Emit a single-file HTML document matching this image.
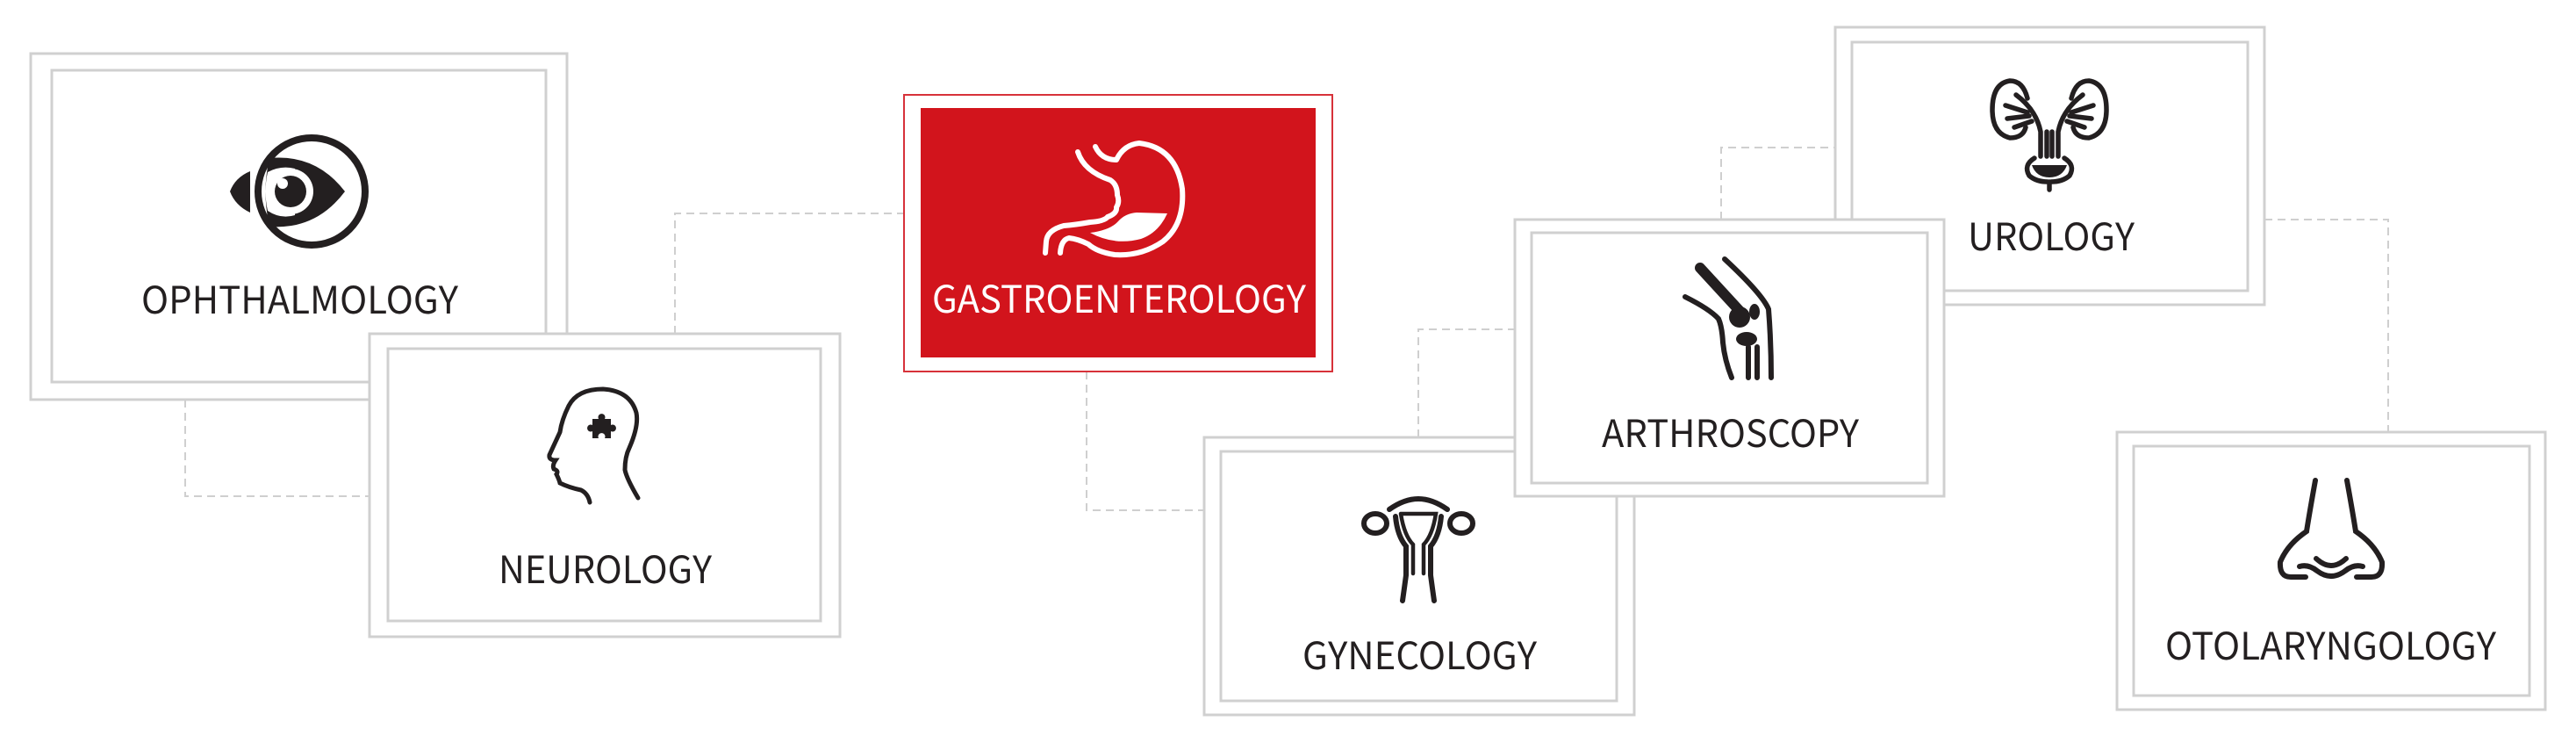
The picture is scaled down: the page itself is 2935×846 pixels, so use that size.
<!DOCTYPE html>
<html><head><meta charset="utf-8"><style>
html,body{margin:0;padding:0;background:#fff}
svg{display:block}
text{font-family:"Noto Sans CJK JP","Liberation Sans",sans-serif;font-size:43px;fill:#231f20}
</style></head><body>
<svg width="2935" height="846" viewBox="0 0 2935 846" xmlns="http://www.w3.org/2000/svg">
<g fill="none" stroke="#cfcfcf" stroke-width="2" stroke-dasharray="9 6">
<polyline points="211,455 211,565 421,565"/>
<polyline points="769,380 769,243 1031,243"/>
<polyline points="1238,423 1238,581 1372,581"/>
<polyline points="1616,498 1616,375 1726,375"/>
<polyline points="1961,250 1961,168 2091,168"/>
<polyline points="2580,250 2721,250 2721,492"/>
</g>
<g fill="#fff" stroke="#d0d0d0" stroke-width="3">
<rect x="35" y="61" width="611" height="394"/><rect x="59" y="80" width="563" height="355"/>
<rect x="421" y="380" width="536" height="345"/><rect x="442" y="397" width="493" height="310"/>
<rect x="2091" y="31" width="489" height="316"/><rect x="2110" y="48" width="451" height="283"/>
<rect x="1372" y="498" width="490" height="316"/><rect x="1391" y="514" width="451" height="284"/>
<rect x="1726" y="250" width="489" height="315"/><rect x="1745" y="265" width="451" height="285"/>
<rect x="2412" y="492" width="488" height="316"/><rect x="2431" y="508" width="451" height="284"/>
</g>
<rect x="1030" y="108" width="488" height="315" fill="#fff" stroke="#d7323a" stroke-width="2"/>
<rect x="1049" y="123" width="450" height="284" fill="#d2141c"/>

<!-- Eye -->
<circle cx="355" cy="218" r="61" fill="none" stroke="#231f20" stroke-width="8"/>
<path d="M262,218 Q268,202 285,195 L285,242 Q268,234 262,218Z" fill="#231f20"/>
<path d="M307,180 Q360,175 393,218 Q360,262 307,258 Q298,218 307,180Z" fill="#231f20"/>
<path d="M305,196 Q300,218 305,240 Q320,250 336,245 L336,192 Q320,188 305,196Z" fill="#fff"/>
<circle cx="331" cy="218" r="26" fill="#fff"/>
<circle cx="331" cy="218" r="18" fill="#231f20"/>
<circle cx="322" cy="209" r="6" fill="#fff"/>

<!-- Head -->
<path d="M727,567 Q714,545 712,535 Q712,520 717,510 Q728,485 725,470 Q718,445 687,443 Q658,443 648,462 Q640,478 638,492 Q632,505 626,518 Q625,524 633,524 Q629,530 631,534 Q637,536 634,540 Q637,546 638,550 Q648,555 662,558 Q670,562 672,572" fill="none" stroke="#231f20" stroke-width="5" stroke-linecap="round"/>
<path d="M675,477 h7 a4,4 0 1 1 7,0 h7 v7 a4,4 0 1 1 0,7 v8 h-7 a4,4 0 1 0 -7,0 h-7 v-8 a4,4 0 1 1 0,-7z" fill="#231f20"/>

<!-- Stomach -->
<g fill="none" stroke="#fff" stroke-width="6" stroke-linecap="round" stroke-linejoin="round">
<path d="M1228,173 Q1235,195 1265,205 Q1273,210 1273,222 Q1276,230 1272,236 Q1273,243 1262,247 Q1258,252 1242,253 Q1225,256 1212,257 Q1193,262 1192,275 L1191,288"/>
<path d="M1248,167 Q1255,182 1272,182 Q1280,165 1298,163 Q1340,168 1347,215 Q1350,255 1325,275 Q1300,292 1270,290 Q1250,287 1240,278 Q1228,272 1218,271 Q1209,273 1208,288"/>
</g>
<path d="M1242,265 Q1265,262 1274,252 Q1282,243 1295,242 L1330,243 Q1320,265 1300,272 Q1270,280 1242,265Z" fill="#fff"/>

<!-- Kidneys -->
<g fill="none" stroke="#231f20" stroke-width="5.5" stroke-linecap="round">
<path d="M2310,112 Q2305,92 2290,92 Q2270,95 2270,125 Q2270,152 2290,157 Q2305,157 2308,145"/>
<path d="M2360,112 Q2365,92 2380,92 Q2400,95 2400,125 Q2400,152 2380,157 Q2365,157 2362,145"/>
<path d="M2297,108 Q2320,125 2325,150 L2325,178 M2373,108 Q2350,125 2345,150 L2345,178"/>
<path d="M2285,120 L2310,128 M2287,135 L2312,132 M2295,145 L2315,138 M2385,120 L2360,128 M2383,135 L2358,132 M2375,145 L2355,138"/>
<path d="M2332,150 V178 M2338,150 V178"/>
<path d="M2318,180 Q2305,188 2312,200 Q2320,207 2333,207 M2352,180 Q2365,188 2358,200 Q2350,207 2337,207 M2335,207 V216"/>
</g>
<path d="M2315,188 H2355 Q2350,202 2335,202 Q2320,202 2315,188Z" fill="#231f20"/>

<!-- Knee -->
<g fill="none" stroke="#231f20" stroke-linecap="round">
<path d="M1937,305 L1983,355" stroke-width="12"/>
<path d="M1965,295 Q2008,335 2015,352 Q2018,390 2018,430" stroke-width="6"/>
<path d="M1920,338 Q1948,352 1958,363 Q1962,372 1963,390 Q1965,410 1973,430" stroke-width="6"/>
<path d="M1992,395 V430 M2002,395 V430" stroke-width="6"/>
</g>
<circle cx="1982" cy="361" r="12" fill="#231f20"/>
<ellipse cx="1999" cy="355" rx="6" ry="9" fill="#231f20"/>
<ellipse cx="1990" cy="386" rx="12" ry="8" fill="#231f20"/>

<!-- Uterus -->
<g fill="none" stroke="#231f20" stroke-width="6" stroke-linecap="round">
<path d="M1583,580 Q1600,568 1616,568 Q1632,568 1649,580"/>
<ellipse cx="1567" cy="596" rx="13" ry="11"/>
<ellipse cx="1665" cy="596" rx="13" ry="11"/>
<path d="M1590,588 Q1592,610 1602,622 L1602,655 Q1600,670 1598,684"/>
<path d="M1642,588 Q1640,610 1630,622 L1630,655 Q1632,670 1634,684"/>
<path d="M1596,585 H1636 Q1632,610 1622,620 V653 M1596,585 Q1600,610 1610,620 V653" stroke-width="4.5"/>
</g>

<!-- Nose -->
<g fill="none" stroke="#231f20" stroke-width="6" stroke-linecap="round">
<path d="M2638,547 Q2632,580 2628,605 Q2606,620 2598,640 Q2597,657 2610,657 L2627,657"/>
<path d="M2674,547 Q2680,580 2684,605 Q2706,620 2714,640 Q2715,657 2702,657 L2685,657"/>
<path d="M2620,645 Q2630,642 2640,650 Q2656,662 2672,650 Q2682,642 2692,645"/>
<path d="M2639,636 Q2656,652 2673,636"/>
</g>

<text x="161" y="357" textLength="361" lengthAdjust="spacingAndGlyphs">OPHTHALMOLOGY</text>
<text x="568" y="664" textLength="243" lengthAdjust="spacingAndGlyphs">NEUROLOGY</text>
<text x="1062" y="356" textLength="426" lengthAdjust="spacingAndGlyphs" style="fill:#fff">GASTROENTEROLOGY</text>
<text x="1484" y="762" textLength="267" lengthAdjust="spacingAndGlyphs">GYNECOLOGY</text>
<text x="1825" y="509" textLength="293" lengthAdjust="spacingAndGlyphs">ARTHROSCOPY</text>
<text x="2242" y="285" textLength="190" lengthAdjust="spacingAndGlyphs">UROLOGY</text>
<text x="2467" y="751" textLength="377" lengthAdjust="spacingAndGlyphs">OTOLARYNGOLOGY</text>
</svg>
</body></html>
